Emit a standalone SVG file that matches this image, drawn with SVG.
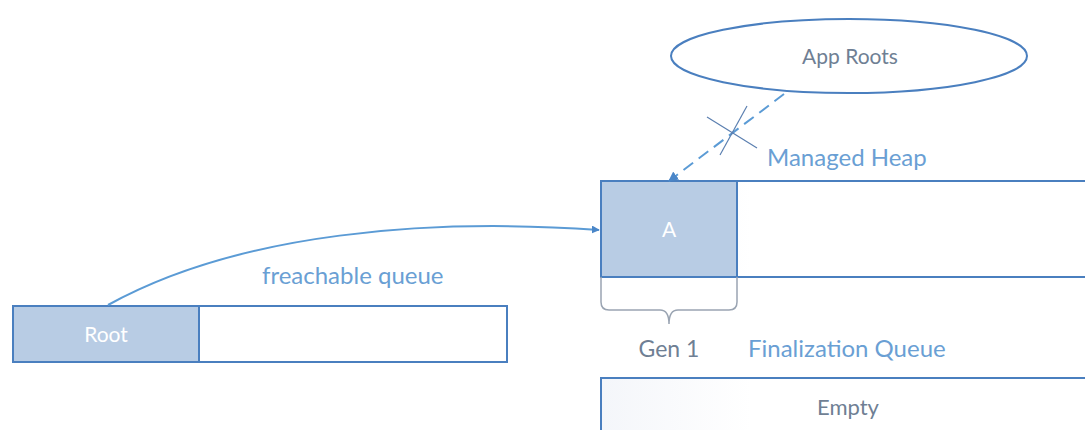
<svg xmlns="http://www.w3.org/2000/svg" width="1085" height="430" viewBox="0 0 1085 430">
  <defs>
    <linearGradient id="boxg" x1="0" y1="0" x2="1" y2="0">
      <stop offset="0" stop-color="#f4f6fa"/>
      <stop offset="0.3" stop-color="#ffffff"/>
      <stop offset="1" stop-color="#ffffff"/>
    </linearGradient>
    <marker id="arr" viewBox="0 0 10 10" refX="9" refY="5" markerWidth="5" markerHeight="5" orient="auto">
      <path d="M0,0 L10,5 L0,10 z" fill="#4a86c8"/>
    </marker>
    <marker id="arr2" viewBox="0 0 10 10" refX="9" refY="5" markerWidth="4" markerHeight="4" orient="auto">
      <path d="M0,0 L10,5 L0,10 z" fill="#4a86c8"/>
    </marker>
  </defs>
  <style>
    .box { fill: url(#boxg); stroke: #4a7fbf; stroke-width: 2; }
    .cell { fill: #b8cce4; stroke: #4a7fbf; stroke-width: 2; }
    .celltxt { font-family: Lato, "Liberation Sans", sans-serif; font-size: 21px; fill: #ffffff; text-anchor: middle; }
    .lbl { font-family: Lato, "Liberation Sans", sans-serif; font-size: 24px; fill: #6a9fd4; }
    .gray { font-family: Lato, "Liberation Sans", sans-serif; font-size: 21px; fill: #6f7f94; text-anchor: middle; }
    .conn { fill: none; stroke: #5b9bd5; stroke-width: 2; }
  </style>
  <rect width="1085" height="430" fill="#ffffff"/>

  <g id="app-roots">
    <ellipse cx="849" cy="56" rx="178" ry="37" fill="#ffffff" stroke="#4a7fbf" stroke-width="2"/>
    <text class="gray" x="850" y="64">App Roots</text>
  </g>

  <g id="managed-heap">
    <rect class="box" x="601" y="181" width="500" height="96"/>
    <text class="lbl" x="767" y="166">Managed Heap</text>
  </g>

  <g id="node-a">
    <rect class="cell" x="601" y="181" width="136" height="96"/>
    <text class="celltxt" x="669" y="237">A</text>
  </g>

  <g id="gen1">
    <path d="M601,277 L601,302 Q601,310 609,310 L660,310 Q669,310 669,324 Q669,310 678,310 L729,310 Q737,310 737,302 L737,277" fill="none" stroke="#9aa4b2" stroke-width="1.5"/>
    <text class="gray" x="669" y="357" style="font-size:23px">Gen 1</text>
  </g>

  <g id="finalization-queue">
    <rect class="box" x="601" y="378" width="500" height="70"/>
    <text class="lbl" x="748" y="357">Finalization Queue</text>
    <text class="gray" x="848" y="415" style="font-size:22px">Empty</text>
  </g>

  <g id="freachable-queue">
    <rect class="box" x="13" y="306" width="494" height="56"/>
    <text class="lbl" x="262" y="284">freachable queue</text>
  </g>

  <g id="root">
    <rect class="cell" x="13" y="306" width="186" height="56"/>
    <text class="celltxt" x="106" y="342">Root</text>
  </g>

  <g id="connectors">
    <path class="conn" d="M108,305 C240,232 430,218 599,230" marker-end="url(#arr2)"/>
    <path class="conn" d="M784,94 L669,181" stroke-width="3" stroke-dasharray="12,7" marker-end="url(#arr)"/>
    <line x1="707" y1="117" x2="757" y2="148" stroke="#5b7fb0" stroke-width="1.2"/>
    <line x1="747" y1="106" x2="720" y2="155" stroke="#5b7fb0" stroke-width="1.2"/>
  </g>
</svg>
